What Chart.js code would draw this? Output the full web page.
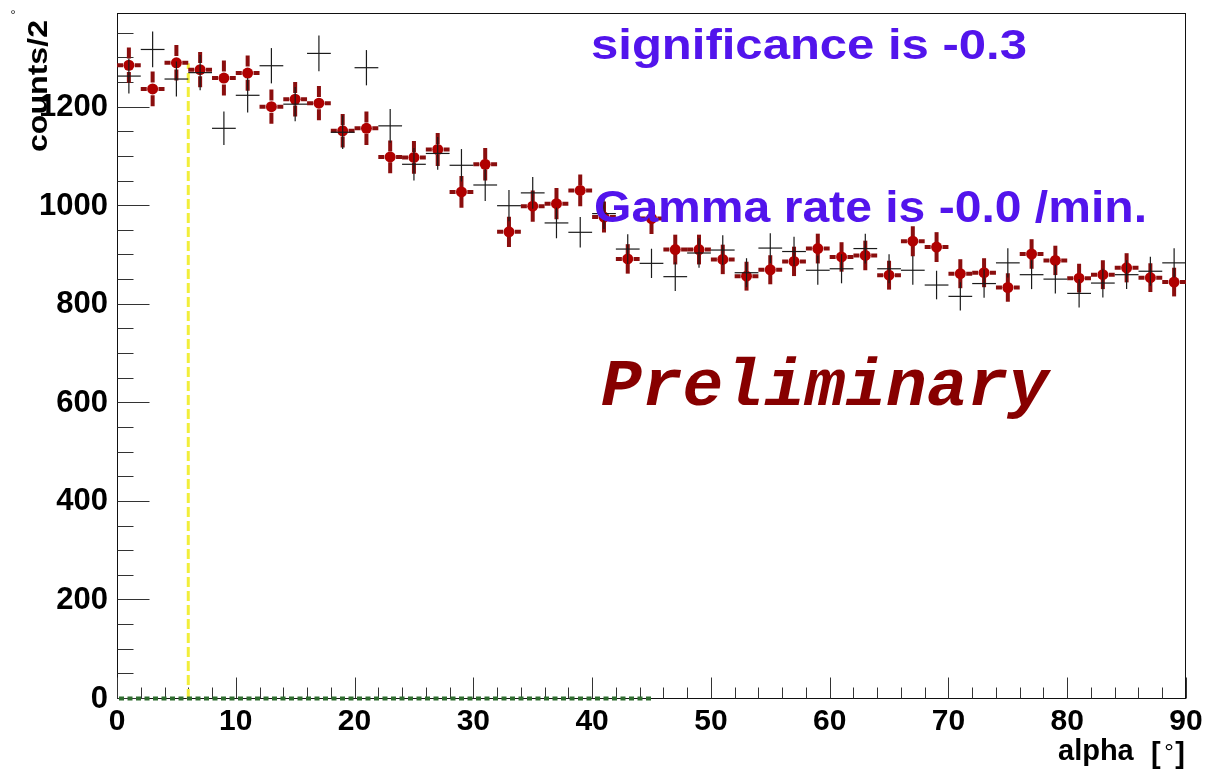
<!DOCTYPE html>
<html>
<head>
<meta charset="utf-8">
<script src="https://cdn.jsdelivr.net/npm/chart.js@4.4.1/dist/chart.umd.min.js"></script>
<style>
  html, body { margin: 0; padding: 0; background: #fff; }
  #wrap { width: 1210px; height: 771px; position: relative; }
</style>
</head>
<body>
<div id="wrap"><canvas id="alphaPlot" width="1210" height="771"></canvas></div>
<script>
// alpha histogram: bin centres (2 degree bins)
const alphaBins = [1, 3, 5, 7, 9, 11, 13, 15, 17, 19, 21, 23, 25, 27, 29, 31, 33, 35, 37, 39, 41, 43, 45,
                   47, 49, 51, 53, 55, 57, 59, 61, 63, 65, 67, 69, 71, 73, 75, 77, 79, 81, 83, 85, 87, 89];

// ON-source counts per bin and their errors
const onCounts = [1286, 1238, 1291, 1277, 1260, 1270, 1202, 1217, 1209, 1153, 1158, 1100, 1099, 1115, 1029,
                  1085, 948, 1000, 1005, 1032, 978, 893, 975, 912, 912, 892, 858, 871, 888, 914,
                  897, 900, 860, 929, 917, 863, 865, 835, 903, 890, 854, 861, 875, 855, 846];
const onErrors = [35.9, 35.2, 35.9, 35.7, 35.5, 35.6, 34.7, 34.9, 34.8, 34.0, 34.0, 33.2, 33.2, 33.4, 32.1,
                  32.9, 30.8, 31.6, 31.7, 32.1, 31.3, 29.9, 31.2, 30.2, 30.2, 29.9, 29.3, 29.5, 29.8, 30.2,
                  29.9, 30.0, 29.3, 30.5, 30.3, 29.4, 29.4, 28.9, 30.0, 29.8, 29.2, 29.3, 29.6, 29.2, 29.1];

// OFF-source (background) counts per bin and their errors
const offCounts = [1264, 1318, 1258, 1271, 1158, 1225, 1285, 1207, 1310, 1150, 1281, 1163, 1085, 1107, 1083,
                   1043, 1001, 1027, 966, 947, 985, 913, 884, 857, 905, 911, 865, 915, 908, 870,
                   873, 914, 873, 870, 840, 817, 843, 885, 861, 852, 823, 844, 861, 868, 885];
const offErrors = [35.6, 36.3, 35.5, 35.7, 34.0, 35.0, 35.8, 34.7, 36.2, 33.9, 35.8, 34.1, 32.9, 33.3, 32.9,
                   32.3, 31.6, 32.0, 31.1, 30.8, 31.4, 30.2, 29.7, 29.3, 30.1, 30.2, 29.4, 30.2, 30.1, 29.5,
                   29.5, 30.2, 29.5, 29.5, 29.0, 28.6, 29.0, 29.7, 29.3, 29.2, 28.7, 29.1, 29.3, 29.5, 29.7];

const binHalfWidth = [1];

// axis ranges and labelled ticks
const xRange = [0, 90];
const yRange = [0, 1392];
const xTickLabels = [0, 10, 20, 30, 40, 50, 60, 70, 80, 90];
const yTickLabels = [0, 200, 400, 600, 800, 1000, 1200];

// signal cut and background-normalisation region
const cutAlpha = [6];
const cutHeight = [1290];
const normRegion = [0, 45];
const normLevel = [0];

// result annotations
const resultLines = ['significance is -0.3', 'Gamma rate is -0.0 /min.'];
const stampText = ['Preliminary'];

const SANS = '"Liberation Sans", Arial, Helvetica, sans-serif';
const MONO = '"Liberation Mono", "Courier New", Courier, monospace';

function stroke(ctx, x0, y0, x1, y1) {
  ctx.beginPath(); ctx.moveTo(x0, y0); ctx.lineTo(x1, y1); ctx.stroke();
}

// frame and inward-pointing ticks, ROOT style
const frameTicks = {
  id: 'frameTicks',
  beforeDatasetsDraw(chart) {
    const { ctx, chartArea: a, scales: { x, y } } = chart;
    ctx.save();
    ctx.strokeStyle = '#111';
    ctx.lineWidth = 1;
    const L = Math.round(a.left) + 0.5, R = Math.round(a.right) - 0.5;
    const T = Math.round(a.top) + 0.5, B = Math.round(a.bottom) - 0.5;
    ctx.strokeRect(L, T, R - L, B - T);
    ctx.strokeStyle = '#333';
    for (let v = yRange[0]; v <= yRange[1]; v += 50) {
      const py = Math.round(y.getPixelForValue(v)) - 0.5;
      const len = v % 200 === 0 ? 32 : 16;
      stroke(ctx, L, py, L + len, py);
    }
    for (let v = xRange[0]; v <= xRange[1]; v += 2) {
      const px = Math.round(x.getPixelForValue(v)) + 0.5;
      const len = v % 10 === 0 ? 21 : 11;
      stroke(ctx, px, B, px, B - len);
    }
    ctx.restore();
  }
};

// error bars: dashed thick bars for ON, thin crosses for OFF
const errorBars = {
  id: 'errorBars',
  beforeDatasetDraw(chart, args) {
    if (args.meta.label !== 'ON') return;
    const { ctx, scales: { x, y } } = chart;
    ctx.save();
    ctx.strokeStyle = '#8a0e0e';
    ctx.lineWidth = 4;
    ctx.lineCap = 'butt';
    alphaBins.forEach((b, i) => {
      const cx = x.getPixelForValue(b), cy = y.getPixelForValue(onCounts[i]);
      const yt = y.getPixelForValue(onCounts[i] + onErrors[i]);
      const yb = y.getPixelForValue(onCounts[i] - onErrors[i]);
      const xl = x.getPixelForValue(b - binHalfWidth[0]);
      const xr = x.getPixelForValue(b + binHalfWidth[0]);
      ctx.setLineDash([11, 4]);
      stroke(ctx, cx, yt, cx, cy);
      stroke(ctx, cx, yb, cx, cy);
      ctx.setLineDash([6, 4]);
      stroke(ctx, xl, cy, cx, cy);
      stroke(ctx, xr, cy, cx, cy);
    });
    ctx.restore();
  },
  afterDatasetDraw(chart, args) {
    if (args.meta.label !== 'OFF') return;
    const { ctx, scales: { x, y } } = chart;
    ctx.save();
    ctx.strokeStyle = '#1a1a1a';
    ctx.lineWidth = 1.2;
    alphaBins.forEach((b, i) => {
      const cx = x.getPixelForValue(b), cy = y.getPixelForValue(offCounts[i]);
      stroke(ctx, cx, y.getPixelForValue(offCounts[i] + offErrors[i]), cx, y.getPixelForValue(offCounts[i] - offErrors[i]));
      stroke(ctx, x.getPixelForValue(b - binHalfWidth[0]), cy, x.getPixelForValue(b + binHalfWidth[0]), cy);
    });
    ctx.restore();
  }
};

// dashed green normalisation band along the axis
const normLine = {
  id: 'normLine',
  afterDatasetsDraw(chart) {
    const { ctx, scales: { x, y } } = chart;
    ctx.save();
    ctx.strokeStyle = '#2f6d2f';
    ctx.lineWidth = 4;
    ctx.setLineDash([5, 3.5]);
    const py = y.getPixelForValue(normLevel[0]) - 0.5;
    stroke(ctx, x.getPixelForValue(normRegion[0]) + 2, py, x.getPixelForValue(normRegion[1]), py);
    ctx.restore();
  }
};

function fitText(ctx, text, left, baseline, font, width, color) {
  ctx.save();
  ctx.font = font;
  ctx.fillStyle = color;
  ctx.textAlign = 'left';
  ctx.textBaseline = 'alphabetic';
  const w = ctx.measureText(text).width;
  ctx.translate(left, baseline);
  ctx.scale(width / w, 1);
  ctx.fillText(text, 0, 0);
  ctx.restore();
}

// titles and annotations
const labels = {
  id: 'labels',
  afterDatasetsDraw(chart) {
    const { ctx } = chart;
    fitText(ctx, resultLines[0], 591, 59, 'bold 43px ' + SANS, 436, '#5214ec');
    fitText(ctx, resultLines[1], 594, 222, 'bold 45px ' + SANS, 553, '#5214ec');
    fitText(ctx, stampText[0], 601, 405, 'italic bold 67px ' + MONO, 448, '#870000');

    // y-axis title, rotated
    ctx.save();
    ctx.translate(47, 152);
    ctx.rotate(-Math.PI / 2);
    fitText(ctx, 'counts/2', 0, 0, 'bold 28px ' + SANS, 132, '#000');
    ctx.restore();

    // small degree mark in the corner
    ctx.save();
    ctx.font = '14px ' + SANS;
    ctx.fillStyle = '#333';
    ctx.textAlign = 'center';
    ctx.textBaseline = 'middle';
    ctx.fillText('\u00B0', 13, 16);
    ctx.restore();

    // x-axis title
    ctx.save();
    ctx.fillStyle = '#000';
    ctx.font = 'bold 29px ' + SANS;
    ctx.textBaseline = 'alphabetic';
    ctx.textAlign = 'left';
    ctx.fillText('alpha', 1058, 760);
    ctx.fillText('[', 1151, 763);
    ctx.textAlign = 'right';
    ctx.fillText(']', 1185, 763);
    ctx.font = '24px ' + SANS;
    ctx.textAlign = 'center';
    ctx.fillText('\u00B0', 1169, 760);
    ctx.restore();
  }
};

const ctx = document.getElementById('alphaPlot').getContext('2d');
new Chart(ctx, {
  type: 'scatter',
  data: {
    datasets: [
      {
        label: 'OFF',
        order: 1,
        data: alphaBins.map((b, i) => ({ x: b, y: offCounts[i] })),
        pointRadius: 0,
        showLine: false
      },
      {
        label: 'ON',
        order: 2,
        data: alphaBins.map((b, i) => ({ x: b, y: onCounts[i] })),
        pointRadius: 5.5,
        pointStyle: 'circle',
        backgroundColor: '#b00000',
        borderWidth: 0,
        showLine: false
      },
      {
        label: 'cut',
        order: 3,
        type: 'line',
        data: [{ x: cutAlpha[0], y: 0 }, { x: cutAlpha[0], y: cutHeight[0] }],
        borderColor: '#f2ee3a',
        borderWidth: 3,
        borderDash: [10, 4],
        pointRadius: 0,
        clip: false
      }
    ]
  },
  options: {
    responsive: false,
    devicePixelRatio: 1,
    animation: false,
    layout: { padding: { top: 13, right: 24, left: 0, bottom: 0 } },
    plugins: { legend: { display: false }, tooltip: { enabled: false } },
    scales: {
      x: {
        type: 'linear',
        min: xRange[0], max: xRange[1],
        grid: { display: false, drawTicks: false },
        border: { display: false },
        afterBuildTicks(s) { s.ticks = xTickLabels.map(v => ({ value: v })); },
        ticks: {
          padding: 5,
          color: '#000',
          maxRotation: 0,
          autoSkip: false,
          font: { family: SANS, size: 30, weight: 'bold' },
          callback: (v) => String(v)
        },
        afterFit(s) { s.height = 72; s.paddingLeft = 0; s.paddingRight = 0; }
      },
      y: {
        type: 'linear',
        min: yRange[0], max: yRange[1],
        grid: { display: false, drawTicks: false },
        border: { display: false },
        afterBuildTicks(s) { s.ticks = yTickLabels.map(v => ({ value: v })); },
        ticks: {
          padding: 9,
          color: '#000',
          autoSkip: false,
          font: { family: SANS, size: 31, weight: 'bold' },
          callback: (v) => String(v)
        },
        afterFit(s) { s.width = 117; s.paddingTop = 0; s.paddingBottom = 0; }
      }
    }
  },
  plugins: [frameTicks, errorBars, normLine, labels]
});
</script>
</body>
</html>
